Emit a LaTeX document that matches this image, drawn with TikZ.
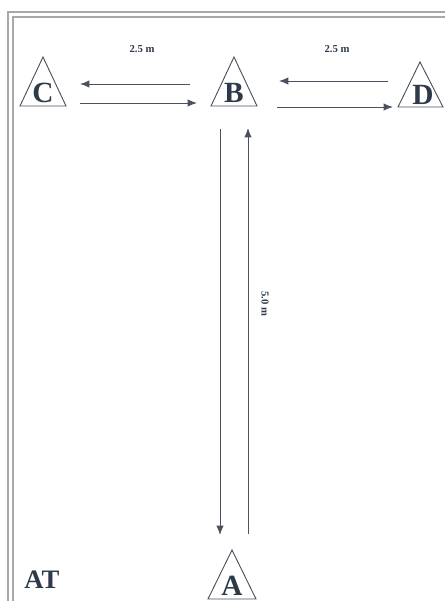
\documentclass[tikz,border=0pt]{standalone}
\usepackage{fontspec}
\setmainfont{Liberation Serif}
\usetikzlibrary{arrows.meta}
\definecolor{ink}{HTML}{2E3A4A}
\definecolor{frame}{HTML}{A8A8A8}
\definecolor{line}{HTML}{4A5260}
\tikzset{
  cone/.style={draw=line, line width=0.7pt, line join=miter},
  letter/.style={font=\bfseries\fontsize{22}{22}\selectfont, text=ink, inner sep=0pt},
  dist/.style={font=\bfseries\fontsize{8}{8}\selectfont, text=ink, inner sep=0pt},
  move/.style={draw=line, line width=0.75pt, -{Latex[length=7pt,width=5.5pt]}},
  border/.style={draw=frame, line width=1.1pt}
}
\begin{document}
\begin{tikzpicture}[x=0.75pt,y=-0.75pt]
\useasboundingbox (0,0) rectangle (445,601);
\fill[white] (0,0) rectangle (445,601);
% frame
\draw[border] (8,640) -- (8,12) -- (480,12);
\draw[border] (13,640) -- (13,17) -- (480,17);
% cones
\draw[cone] (43,57) -- (66,106) -- (20,106) -- cycle;
\draw[cone] (234,57) -- (257,106) -- (211,106) -- cycle;
\draw[cone] (420,62) -- (443,107) -- (398,107) -- cycle;
\draw[cone] (232,550) -- (256,599) -- (208,599) -- cycle;
\node[letter] (C) at (43,93) {C};
\node[letter] (B) at (234,93) {B};
\node[letter] (D) at (423,95) {D};
\node[letter] (A) at (232,586) {A};
\node[font=\bfseries\fontsize{20}{20}\selectfont, text=ink, inner sep=0pt] (AT) at (42,580) {AT};
% arrow end points
\coordinate (cb1) at (190,84);
\coordinate (cb2) at (80,84);
\coordinate (cb3) at (80,103);
\coordinate (cb4) at (197,103);
\coordinate (bd1) at (388,81);
\coordinate (bd2) at (279,81);
\coordinate (bd3) at (277,107);
\coordinate (bd4) at (393,107);
\coordinate (ba1) at (220,129);
\coordinate (ba2) at (220,535);
\coordinate (ab1) at (248,534);
\coordinate (ab2) at (248,128);
\draw[move] (cb1) -- (cb2);
\draw[move] (cb3) -- (cb4);
\draw[move] (bd1) -- (bd2);
\draw[move] (bd3) -- (bd4);
\draw[move] (ba1) -- (ba2);
\draw[move] (ab1) -- (ab2);
\node[dist] (l1) at (142,49) {2.5 m};
\node[dist] (l2) at (337,49) {2.5 m};
\node[dist, rotate=-90] (l3) at (265,304) {5.0 m};
\end{tikzpicture}
\end{document}
